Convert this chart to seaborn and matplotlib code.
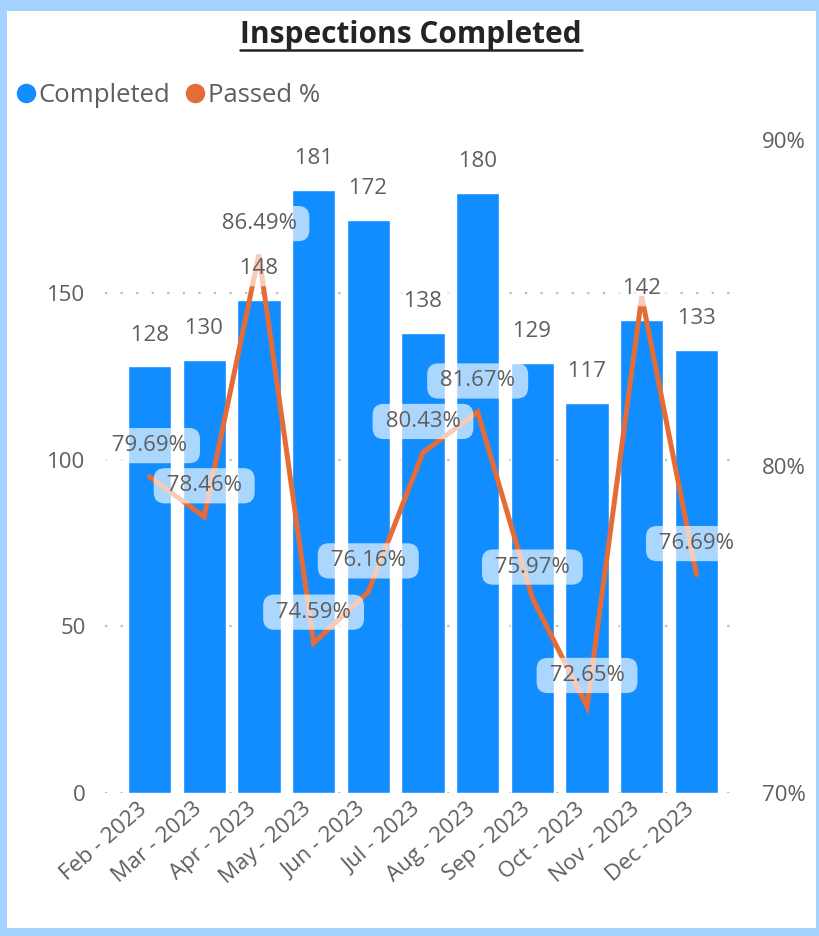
import numpy as np
import pandas as pd
import matplotlib
matplotlib.use("Agg")
import matplotlib.pyplot as plt
from matplotlib.lines import Line2D
from matplotlib.patches import Rectangle
import matplotlib.transforms as mtransforms
import seaborn as sns

# ---- data ----
months = ["Feb - 2023", "Mar - 2023", "Apr - 2023", "May - 2023", "Jun - 2023",
          "Jul - 2023", "Aug - 2023", "Sep - 2023", "Oct - 2023", "Nov - 2023", "Dec - 2023"]
completed = [128, 130, 148, 181, 172, 138, 180, 129, 117, 142, 133]
passed_pct = [79.69, 78.46, 86.49, 74.59, 76.16, 80.43, 81.67, 75.97, 72.65, 85.21, 76.69]
show_pct_label = [True, True, True, True, True, True, True, True, True, False, True]
left_ticks = [0, 50, 100, 150]
right_ticks = [70, 80, 90]
title = "Inspections Completed"
series_names = ["Completed", "Passed %"]

BLUE = "#118DFF"
ORANGE = "#E66C37"
GRAY = "#605E5C"
FRAME = "#A6D2FF"
FONT = ["Open Sans", "DejaVu Sans"]

sns.set_theme(style="white")
plt.rcParams["font.family"] = FONT

W, H = 819, 936
fig = plt.figure(figsize=(W / 100, H / 100), dpi=100, facecolor=FRAME)
# white card
fig.add_artist(Rectangle((7 / W, 8 / H), (816 - 7) / W, (925 - 8) / H,
                         transform=fig.transFigure, facecolor="white",
                         edgecolor="none", zorder=0))

ax_l, ax_r, ax_b, ax_t = 105, 738, 793, 140
ax = fig.add_axes([ax_l / W, (H - ax_b) / H, (ax_r - ax_l) / W, (ax_b - ax_t) / H])
ax.set_facecolor("none")

df = pd.DataFrame({"month": months, "completed": completed, "passed": passed_pct})

sns.barplot(data=df, x="month", y="completed", color=BLUE, saturation=1,
            width=0.79, ax=ax, zorder=2)
ax.set_ylim(0, (ax_b - ax_t) / (500 / 150))
ax.set_yticks(left_ticks)
ax.set_yticklabels([str(t) for t in left_ticks])
ax.set_xlabel("")
ax.set_ylabel("")
for s in ax.spines.values():
    s.set_visible(False)
ax.grid(False)
for t in left_ticks:
    ax.axhline(t, color="#BFBDBB", linestyle=(0, (1, 6)), linewidth=1.6, zorder=1)
ax.tick_params(axis="y", length=0, pad=14, labelsize=16, labelcolor=GRAY)
ax.tick_params(axis="x", length=0, pad=4, labelsize=16, labelcolor=GRAY)
shift = mtransforms.ScaledTranslation(-12 / 100, 0, fig.dpi_scale_trans)
for lab in ax.get_xticklabels():
    lab.set_rotation(41)
    lab.set_ha("right")
    lab.set_rotation_mode("anchor")
    lab.set_transform(lab.get_transform() + shift)

ax2 = ax.twinx()
ax2.set_facecolor("none")
sns.lineplot(x=np.arange(len(months)), y=np.array(passed_pct), color=ORANGE,
             linewidth=3.6, ax=ax2, zorder=3, solid_joinstyle="miter")
ax2.set_ylim(70, 90)
ax2.set_yticks(right_ticks)
ax2.set_yticklabels([f"{t}%" for t in right_ticks])
ax2.set_ylabel("")
for s in ax2.spines.values():
    s.set_visible(False)
ax2.grid(False)
ax2.tick_params(axis="y", length=0, pad=17, labelsize=16, labelcolor=GRAY)
ax.set_xlim(-0.814, 10.76)

box = dict(boxstyle="round,pad=0.32,rounding_size=0.5", fc="white", ec="none", alpha=0.65)
off = 31 * 0.72
for i, v in enumerate(completed):
    ax2.annotate(f" {v} ", xy=(i, v), xycoords=ax.transData, xytext=(0, off),
                 textcoords="offset points", ha="center", va="center",
                 fontsize=16, color=GRAY, bbox=box, zorder=5)
for i, v in enumerate(passed_pct):
    if show_pct_label[i]:
        ax2.annotate(f" {v:.2f}% ", xy=(i, v), xytext=(0, off),
                     textcoords="offset points", ha="center", va="center",
                     fontsize=16, color=GRAY, bbox=box, zorder=5)

# title with underline
ttl = fig.text(411 / W, (H - 35) / H, title, ha="center", va="center",
               fontsize=21.5, fontweight="bold", color="#252423")
fig.canvas.draw()
bb = ttl.get_window_extent()
fig.add_artist(Line2D([bb.x0 / W, bb.x1 / W], [(H - 50) / H, (H - 50) / H],
                      transform=fig.transFigure, color="#252423", linewidth=1.8))

handles = [Line2D([], [], marker="o", linestyle="none", markersize=13,
                  markerfacecolor=c, markeredgecolor=c) for c in (BLUE, ORANGE)]
fig.legend(handles, series_names, loc="center left",
           bbox_to_anchor=(17 / W, (H - 95) / H), ncol=2, frameon=False,
           handlelength=0.7, handletextpad=0.15, columnspacing=0.6,
           borderaxespad=0, borderpad=0, fontsize=18.5, labelcolor=GRAY)

fig.savefig("out.png", dpi=100, facecolor=FRAME)
